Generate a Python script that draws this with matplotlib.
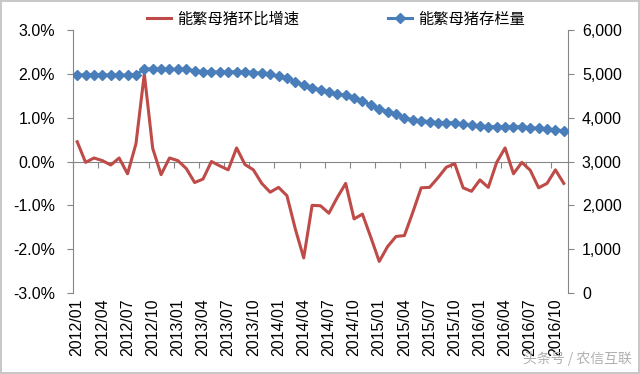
import matplotlib
matplotlib.use("Agg")
import matplotlib.pyplot as plt
import numpy as np
from matplotlib.lines import Line2D

plt.rcParams['font.family'] = ['Liberation Sans', 'Noto Sans CJK SC', 'DejaVu Sans']

# Months 2012/01 .. 2016/11
months = [f"{y}/{m:02d}" for y in range(2012, 2017) for m in range(1, 13)][:59]

# 能繁母猪环比增速 (%), left axis
growth = [0.45, -0.02, 0.08, 0.02, -0.08, 0.08, -0.28, 0.40, 2.00, 0.30,
          -0.30, 0.08, 0.02, -0.16, -0.48, -0.40, 0.00, -0.10, -0.19, 0.31,
          -0.07, -0.19, -0.50, -0.70, -0.59, -0.78, -1.54, -2.20, -1.00, -1.01,
          -1.18, -0.82, -0.50, -1.31, -1.20, -1.73, -2.28, -1.94, -1.71, -1.69,
          -1.16, -0.60, -0.59, -0.37, -0.13, -0.05, -0.60, -0.68, -0.42, -0.59,
          -0.02, 0.31, -0.28, -0.02, -0.20, -0.60, -0.50, -0.19, -0.50]

# 能繁母猪存栏量 (万头), right axis
stock = [4975, 4975, 4975, 4975, 4970, 4970, 4970, 4980, 5104, 5120,
         5110, 5104, 5104, 5100, 5070, 5050, 5045, 5040, 5040, 5050,
         5045, 5030, 5012, 4985, 4945, 4913, 4821, 4740, 4688, 4632,
         4579, 4540, 4510, 4456, 4380, 4289, 4198, 4137, 4084, 4000,
         3947, 3932, 3909, 3886, 3886, 3886, 3856, 3833, 3810, 3795,
         3795, 3795, 3795, 3790, 3772, 3757, 3742, 3719, 3703]

left_ticks = [-3, -2, -1, 0, 1, 2, 3]
right_ticks = [0, 1000, 2000, 3000, 4000, 5000, 6000]

label_growth = "能繁母猪环比增速"
label_stock = "能繁母猪存栏量"

RED = "#BE4B48"
BLUE = "#4A7EBB"
GRAY = "#868686"
FS = 11.5

fig = plt.figure(figsize=(6.4, 3.74), dpi=100)
fig.patch.set_edgecolor("#c8c8c8")
fig.patch.set_linewidth(1.5)
ax = fig.add_axes([73/640, 1-293/374, (568-73)/640, (293-30)/374])
ax2 = ax.twinx()

x = np.arange(len(months))
ax.plot(x, growth, color=RED, lw=2.2, solid_joinstyle='round', zorder=3)
ax2.plot(x, stock, color=BLUE, lw=2.2, marker='D', markersize=5, zorder=3)

ax.set_xlim(-0.5, len(months) - 0.5)
ax.set_ylim(-3, 3)
ax2.set_ylim(0, 6000)

ax.set_yticks(left_ticks)
ax.set_yticklabels([f"{v:.1f}%" for v in left_ticks], fontsize=FS)
ax2.set_yticks(right_ticks)
ax2.set_yticklabels([f"{v:,}" for v in right_ticks], fontsize=FS)

for a in (ax, ax2):
    a.spines['top'].set_visible(False)
    a.spines['left'].set_color(GRAY)
    a.spines['right'].set_color(GRAY)
ax2.spines['bottom'].set_visible(False)
ax.spines['right'].set_visible(False)
ax2.spines['left'].set_visible(False)

ax.tick_params(axis='y', direction='out', length=4, color=GRAY, pad=9)
ax2.tick_params(axis='y', direction='out', length=4, color=GRAY, pad=6)

# horizontal axis line at 0 with tick marks between category groups
ax.spines['bottom'].set_position(('data', 0))
ax.spines['bottom'].set_color(GRAY)
ax.set_xticks(np.arange(-0.5, len(months), 3))
ax.tick_params(axis='x', direction='out', length=4, color=GRAY, labelbottom=False)

# category labels at bottom
sec = ax.secondary_xaxis('bottom')
sec.spines['bottom'].set_visible(False)
idx = list(range(0, len(months), 3))
sec.set_xticks(idx)
sec.set_xticklabels([months[i] for i in idx], rotation=90, fontsize=FS)
sec.tick_params(axis='x', length=0, pad=4)

handles = [Line2D([], [], color=RED, lw=2.2),
           Line2D([], [], color=BLUE, lw=2.2, marker='D', markersize=5)]
fig.legend(handles, [label_growth, label_stock], loc='center',
           bbox_to_anchor=(336/640, 1-19/374), ncol=2, frameon=False,
           handlelength=1.6, columnspacing=5.8, handletextpad=0.4,
           prop={'family': ['Noto Sans CJK SC', 'DejaVu Sans'], 'size': 11})

fig.text(632/640, 1-358/374, "头条号 / 农信互联", ha='right', va='center',
         fontsize=10, color="#b0b0b0",
         family=['Noto Sans CJK SC', 'DejaVu Sans'])

fig.savefig("out.png", dpi=100, edgecolor=fig.get_edgecolor())
